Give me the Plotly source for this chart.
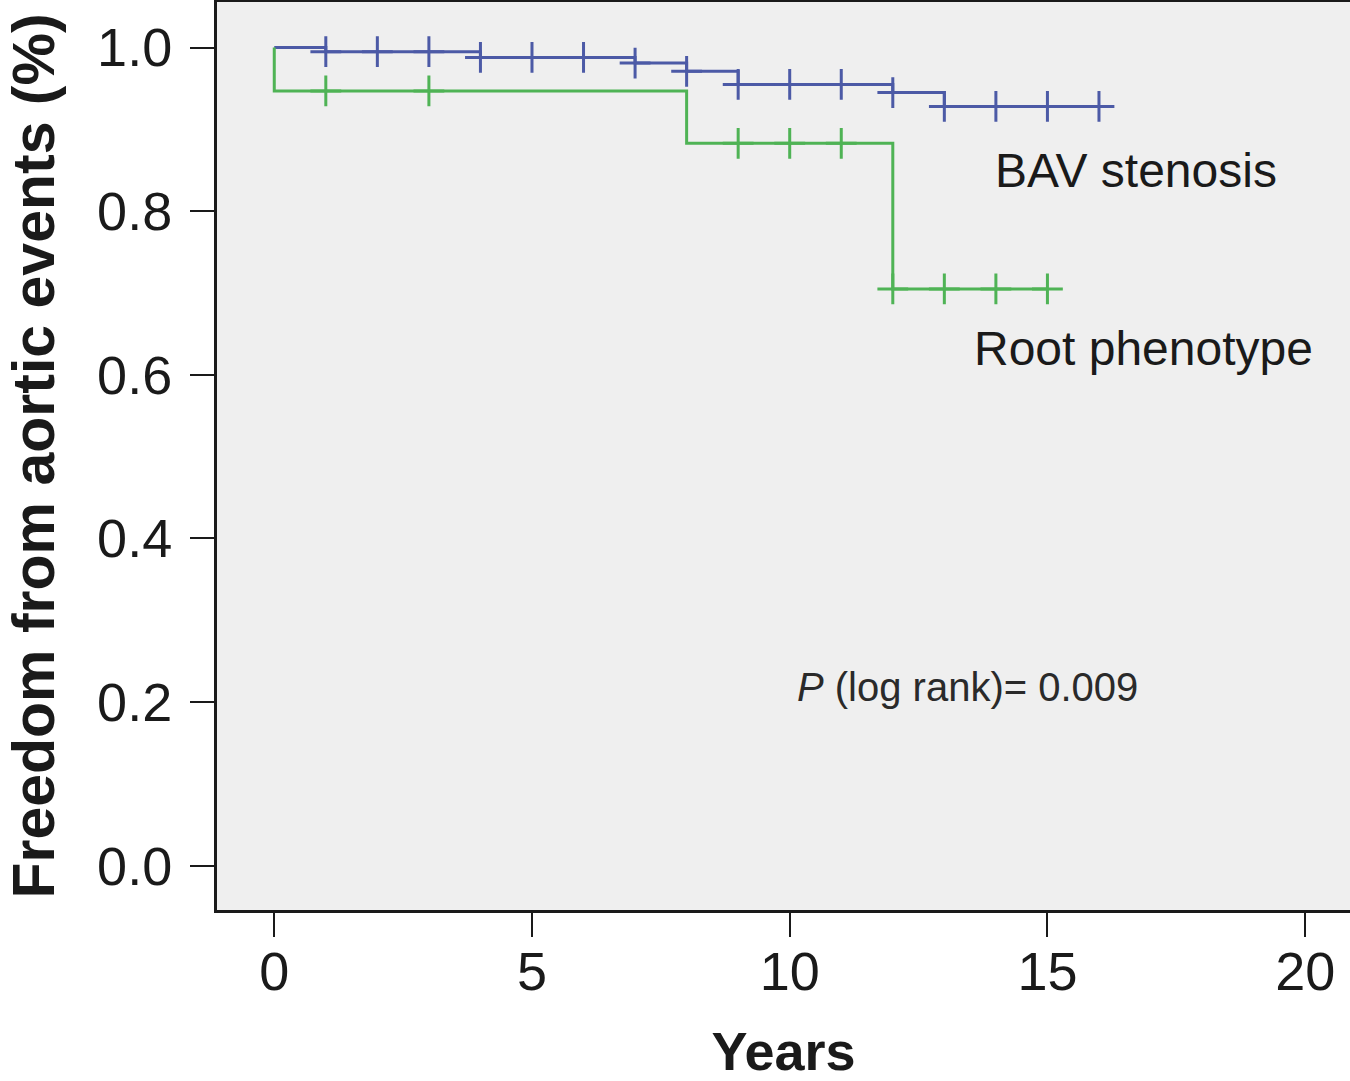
import plotly.graph_objects as go

# Kaplan-Meier step data (years, survival)
BAV_TIME = [0, 1, 4, 7, 8, 9, 12, 13, 16]
BAV_SURV = [1.0, 0.995, 0.988, 0.981, 0.971, 0.955, 0.945, 0.928, 0.928]
BAV_CENSOR = [1, 2, 3, 4, 5, 6, 7, 8, 9, 10, 11, 12, 13, 14, 15, 16]

ROOT_TIME = [0, 0, 8, 12, 15]
ROOT_SURV = [1.0, 0.947, 0.883, 0.705, 0.705]
ROOT_CENSOR = [1, 3, 9, 10, 11, 12, 13, 14, 15]

X_TICKS = [0, 5, 10, 15, 20]
Y_TICKS = [0.0, 0.2, 0.4, 0.6, 0.8, 1.0]

BLUE = "#4C5AA6"
GREEN = "#4FB355"
INK = "#1A1A1A"
FONT = "Liberation Sans, Arial, sans-serif"


def surv_at(times, surv, t):
    # value of the step function at time t (right-continuous)
    val = surv[0]
    for ti, si in zip(times, surv):
        if ti <= t:
            val = si
    return val


fig = go.Figure()

for times, surv, cens, col in [
    (BAV_TIME, BAV_SURV, BAV_CENSOR, BLUE),
    (ROOT_TIME, ROOT_SURV, ROOT_CENSOR, GREEN),
]:
    fig.add_trace(go.Scatter(
        x=times, y=surv, mode="lines", line=dict(color=col, width=3, shape="hv"),
        showlegend=False, hoverinfo="skip",
    ))
    fig.add_trace(go.Scatter(
        x=cens, y=[surv_at(times, surv, t) for t in cens], mode="markers",
        marker=dict(symbol="cross-thin", size=22, line=dict(color=col, width=3)),
        showlegend=False,
    ))

fig.add_annotation(x=16.72, y=0.85, text="BAV stenosis", showarrow=False,
                   font=dict(family=FONT, size=48, color=INK), xanchor="center", yanchor="middle")
fig.add_annotation(x=16.86, y=0.632, text="Root phenotype", showarrow=False,
                   font=dict(family=FONT, size=48, color=INK), xanchor="center", yanchor="middle")
fig.add_annotation(x=13.44, y=0.219, text="<i>P</i> (log rank)= 0.009", showarrow=False,
                   font=dict(family=FONT, size=40, color="#2a2a2a"), xanchor="center", yanchor="middle")

axis_common = dict(
    showgrid=False, zeroline=False, showline=True, linecolor=INK, linewidth=3,
    ticks="outside", ticklen=24, tickwidth=2, tickcolor=INK,
    tickfont=dict(family=FONT, size=54, color=INK),
)

fig.update_layout(
    width=1350, height=1081,
    paper_bgcolor="white", plot_bgcolor="#EFEFEF",
    margin=dict(l=217, r=0, t=2, b=171),
    xaxis=dict(range=[-1.111, 20.87], tickvals=X_TICKS, mirror=True, ticklabelstandoff=-12,
               automargin=False,
               title=dict(text="<b>Years</b>", font=dict(family=FONT, size=54, color=INK), standoff=40),
               **axis_common),
    yaxis=dict(range=[-0.0542, 1.0557], tickvals=Y_TICKS, tickformat=".1f", ticklabelstandoff=7,
               automargin=True,
               title=dict(text="<b>Freedom from aortic events (%)</b>",
                          font=dict(family=FONT, size=59, color=INK), standoff=24),
               **axis_common),
)

# drop the browser's default body margin so the figure sits at the page corner
fig.write_html(
    "out.html",
    config={"displayModeBar": False},
    post_script="document.body.style.margin='0';document.body.style.overflow='hidden';",
)
